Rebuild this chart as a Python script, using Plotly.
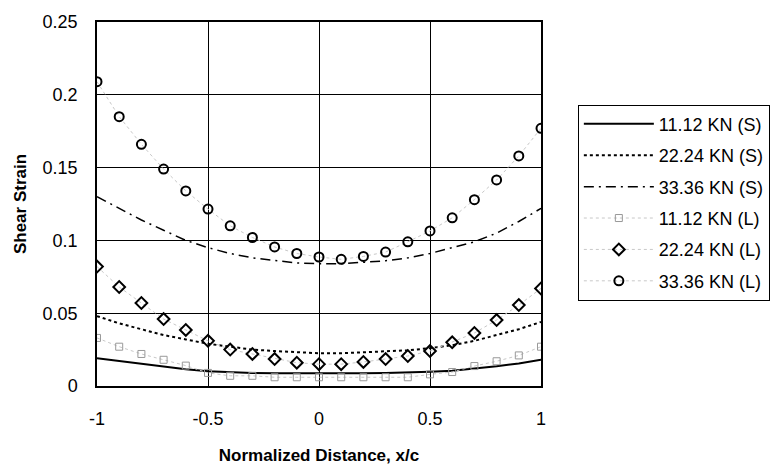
import plotly.graph_objects as go

x_pts = [-1.0, -0.9, -0.8, -0.7, -0.6, -0.5, -0.4, -0.3, -0.2, -0.1, 0.0,
         0.1, 0.2, 0.3, 0.4, 0.5, 0.6, 0.7, 0.8, 0.9, 1.0]

# Smooth (S) curves
s_11 = [0.019, 0.017, 0.015, 0.013, 0.0115, 0.0102, 0.0095, 0.009, 0.0088, 0.0087, 0.0087,
        0.0087, 0.0088, 0.009, 0.0093, 0.0098, 0.0105, 0.0118, 0.0135, 0.0155, 0.018]
s_22 = [0.048, 0.043, 0.039, 0.035, 0.032, 0.029, 0.027, 0.025, 0.024, 0.023, 0.0225,
        0.0225, 0.023, 0.0235, 0.0245, 0.026, 0.028, 0.031, 0.035, 0.039, 0.044]
s_33 = [0.130, 0.122, 0.114, 0.107, 0.100, 0.095, 0.091, 0.088, 0.086, 0.0845, 0.084,
        0.084, 0.085, 0.086, 0.088, 0.091, 0.095, 0.099, 0.105, 0.113, 0.122]

# Measured (L) points
l_11 = [0.033, 0.027, 0.022, 0.018, 0.014, 0.009, 0.007, 0.007, 0.006, 0.006, 0.006,
        0.006, 0.006, 0.006, 0.006, 0.008, 0.0096, 0.0137, 0.017, 0.021, 0.027]
l_22 = [0.082, 0.068, 0.057, 0.046, 0.0385, 0.031, 0.025, 0.022, 0.0185, 0.016, 0.015,
        0.015, 0.0165, 0.0185, 0.0206, 0.024, 0.030, 0.0364, 0.0453, 0.0556, 0.067]
l_33 = [0.209, 0.185, 0.166, 0.149, 0.134, 0.1215, 0.110, 0.102, 0.0955, 0.091, 0.0886,
        0.087, 0.089, 0.092, 0.099, 0.1065, 0.1155, 0.128, 0.1415, 0.158, 0.177]

x_ticks = [-1, -0.5, 0, 0.5, 1]
x_labels = ["-1", "-0.5", "0", "0.5", "1"]
y_ticks = [0, 0.05, 0.1, 0.15, 0.2, 0.25]
y_labels = ["0", "0.05", "0.1", "0.15", "0.2", "0.25"]

FONT = "Liberation Sans, Arial, sans-serif"

fig = go.Figure()
fig.add_trace(go.Scatter(x=x_pts, y=s_11, mode="lines", name="11.12 KN (S)", legendgroup="a",
                         line=dict(color="black", width=2)))
fig.add_trace(go.Scatter(x=x_pts, y=s_22, mode="lines", name="22.24 KN (S)", legendgroup="b",
                         line=dict(color="black", width=2, dash="dot")))
fig.add_trace(go.Scatter(x=x_pts, y=s_33, mode="lines", name="33.36 KN (S)", legendgroup="c",
                         line=dict(color="black", width=1.5, dash="10px,5px,2px,5px")))
fig.add_trace(go.Scatter(x=x_pts, y=l_11, mode="lines+markers", name="11.12 KN (L)", legendgroup="d",
                         line=dict(color="#c8c8c8", width=1, dash="dot"),
                         marker=dict(symbol="square-open", size=7, color="#999999",
                                     line=dict(width=1, color="#999999"))))
fig.add_trace(go.Scatter(x=x_pts, y=l_22, mode="lines+markers", name="22.24 KN (L)", legendgroup="e",
                         line=dict(color="#c8c8c8", width=1, dash="dot"),
                         marker=dict(symbol="diamond-open", size=9, color="black",
                                     line=dict(width=2, color="black"))))
fig.add_trace(go.Scatter(x=x_pts, y=l_33, mode="lines+markers", name="33.36 KN (L)", legendgroup="f",
                         line=dict(color="#c8c8c8", width=1, dash="dot"),
                         marker=dict(symbol="circle-open", size=9, color="black",
                                     line=dict(width=2, color="black"))))

fig.update_layout(
    width=780, height=465,
    margin=dict(l=97, r=239, t=22, b=79, autoexpand=False),
    paper_bgcolor="white", plot_bgcolor="white",
    font=dict(family=FONT, size=18, color="black"),
    showlegend=True,
    legend=dict(x=1.083, y=0.773, xanchor="left", yanchor="top",
                bordercolor="black", borderwidth=1, bgcolor="white",
                font=dict(size=18), itemwidth=70, tracegroupgap=5),
)
fig.update_xaxes(range=[-1, 1], tickvals=x_ticks, ticktext=x_labels,
                 showgrid=True, gridcolor="black", gridwidth=1,
                 showline=True, linecolor="black", linewidth=1.5, mirror=True,
                 zeroline=False, ticks="", ticklabelstandoff=16, automargin=False,
                 title=dict(text="<b>Normalized Distance, x/c</b>", font=dict(size=17), standoff=22))
fig.update_yaxes(range=[0, 0.25], tickvals=y_ticks, ticktext=y_labels,
                 showgrid=True, gridcolor="black", gridwidth=1,
                 showline=True, linecolor="black", linewidth=1.5, mirror=True,
                 zeroline=False, ticks="", ticklabelstandoff=14, automargin=False,
                 title=dict(text="<b>Shear Strain</b>", font=dict(size=17), standoff=12))

fig.write_html("out.html")
